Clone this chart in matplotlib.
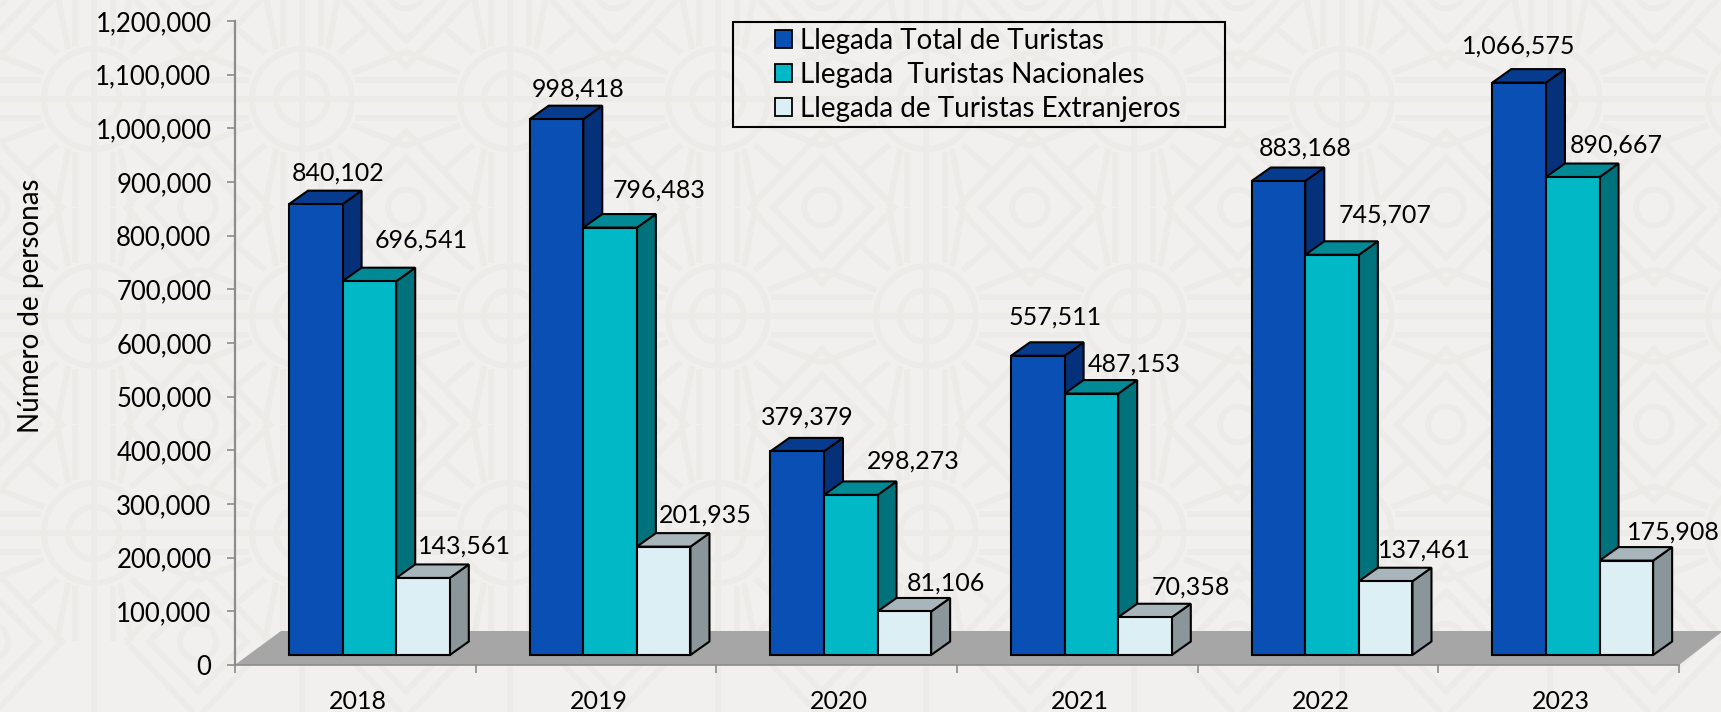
import numpy as np
import matplotlib
matplotlib.use("Agg")
import matplotlib.pyplot as plt
from matplotlib.patches import Polygon, Rectangle, Patch, Circle

W, H = 1721, 712
plt.rcParams['font.family'] = ['Lato', 'DejaVu Sans']

years = ['2018', '2019', '2020', '2021', '2022', '2023']
total = [840102, 998418, 379379, 557511, 883168, 1066575]
nacionales = [696541, 796483, 298273, 487153, 745707, 890667]
extranjeros = [143561, 201935, 81106, 70358, 137461, 175908]
series = [total, nacionales, extranjeros]
names = ['Llegada Total de Turistas', 'Llegada  Turistas Nacionales', 'Llegada de Turistas Extranjeros']
# cara, tapa, lado
colors = [('#0a50b4', '#063b8e', '#05317a'),
          ('#00b8c6', '#008a96', '#00727c'),
          ('#dceff5', '#a8b6bb', '#8a969a')]
yticks = list(range(0, 1300000, 100000))

label_pos = [[(338, 173), (421, 240), (464, 546)],
             [(578, 89), (659, 190), (705, 515)],
             [(807, 417), (913, 461), (946, 583)],
             [(1055, 317), (1134, 364), (1191, 587)],
             [(1305, 148), (1385, 215), (1424, 550)],
             [(1519, 46), (1616, 145), (1673, 532)]]

fig = plt.figure(figsize=(W/100, H/100), dpi=100, facecolor='#f1f0ee')

# fondo decorativo
bg = fig.add_axes([0, 0, 1, 1], zorder=0)
bg.set_xlim(0, W)
bg.set_ylim(H, 0)
bg.axis('off')
pat = '#ecebe8'
PX, PY = 208, 217
lw = 4.2

def seg(a, b, c, d):
    bg.plot([a, c], [b, d], color=pat, lw=lw, solid_capstyle='butt', zorder=1)

for r in [99 - PY, 99, 99 + PY, 99 + 2*PY, 99 + 3*PY]:
    seg(0, r, W, r)
for c in np.arange(94 - PX, W + PX, PX):
    seg(c, 0, c, H)
    for r in [99 - PY, 99, 99 + PY, 99 + 2*PY]:
        bg.add_patch(Circle((c, r), 50, fill=False, ec=pat, lw=lw, zorder=1))
        bg.add_patch(Circle((c, r), 26, fill=False, ec=pat, lw=lw, zorder=1))
        for sx in (-1, 1):
            for sy in (-1, 1):
                seg(c + sx*53, r + sy*19, c + sx*104, r + sy*19)
                seg(c + sx*19, r + sy*53, c + sx*19, r + sy*108)
                seg(c + sx*50, r + sy*26, c + sx*104, r + sy*47)
                seg(c + sx*26, r + sy*50, c + sx*37, r + sy*108)
                seg(c + sx*37, r + sy*46, c + sx*67, r + sy*72)
        # rombos
        cx, cy = c + PX/2, r + PY/2
        for a, b in [(72, 76), (49, 50)]:
            bg.add_patch(Polygon([(cx - a, cy), (cx, cy - b), (cx + a, cy), (cx, cy + b)],
                                 closed=True, fill=False, ec=pat, lw=lw, zorder=1))
        bg.add_patch(Circle((cx, cy), 18, fill=False, ec=pat, lw=lw, zorder=1))

# ejes
x0, x1, y0, y1 = 235, 1679, 665, 21
ax = fig.add_axes([x0/W, 1 - y0/H, (x1 - x0)/W, (y0 - y1)/H], zorder=2)
ax.patch.set_alpha(0)
ax.set_xlim(0, 6)
ax.set_ylim(0, 1200000)
xs = (x1 - x0)/6
ys = (y0 - y1)/1200000

def px(a, b):
    return (a - x0)/xs, (y0 - b)/ys

depth_x = 19/xs
depth_y = 13.5/ys
lift = 10/ys
bar_w = 53.6/xs
start = 54/xs

# piso
ax.add_patch(Polygon([px(x0 - 28/100, y0), px(x1, y0), px(W + 2, 631), px(281, 631)],
                     closed=True, fc='#a6a6a6', ec='none', clip_on=False, zorder=1))

edge = dict(ec='black', lw=1.5, joinstyle='miter', clip_on=False, zorder=3)
for i in range(len(years)):
    for j, s in enumerate(series):
        left = i + start + j*bar_w
        right = left + bar_w
        top = lift + s[i]
        face, cap, side = colors[j]
        ax.add_patch(Polygon([(right, lift), (right + depth_x, lift + depth_y),
                              (right + depth_x, top + depth_y), (right, top)], fc=side, **edge))
        ax.add_patch(Polygon([(left, top), (left + depth_x, top + depth_y),
                              (right + depth_x, top + depth_y), (right, top)], fc=cap, **edge))
        ax.add_patch(Rectangle((left, lift), bar_w, s[i], fc=face, **edge))
        lx, ly = px(*label_pos[i][j])
        ax.text(lx, ly, f'{s[i]:,}', fontsize=18, color='black', ha='center', va='center',
                clip_on=False, zorder=5)

for side in ['top', 'right']:
    ax.spines[side].set_visible(False)
ax.spines['left'].set_color('#8c8c8c')
ax.spines['left'].set_linewidth(1.6)
ax.spines['bottom'].set_color('#8c8c8c')
ax.spines['bottom'].set_linewidth(1.2)

ax.set_yticks(yticks)
ax.set_yticklabels([f'{v:,}' for v in yticks], fontsize=18.5)
ax.tick_params(axis='y', length=6, width=1.2, color='#8c8c8c', pad=11)
ax.set_xticks(range(7))
ax.set_xticklabels([])
ax.tick_params(axis='x', length=6, width=1.2, color='#8c8c8c')
ax.set_xticks(np.arange(0.51, 6), years, minor=True, fontsize=18)
ax.tick_params(axis='x', which='minor', length=0, pad=18)

fig.text(31/W, 1 - 306/H, 'Número de personas', rotation=90, fontsize=20,
         ha='center', va='center')

# leyenda
fig.add_artist(Rectangle((733/W, 1 - 127/H), 492/W, 105/H, transform=fig.transFigure,
                         fill=False, ec='black', lw=1.5))
handles = [Patch(fc=c[0], ec='black', lw=1.3) for c in colors]
ax.legend(handles, names, frameon=False, loc='upper left',
          bbox_to_anchor=(768/W, 1 - 21/H), bbox_transform=fig.transFigure,
          fontsize=20, handlelength=0.6, handleheight=0.6, handletextpad=0.3,
          labelspacing=0.28, borderpad=0.25, borderaxespad=0)

fig.savefig('out.png', dpi=100, facecolor=fig.get_facecolor())
